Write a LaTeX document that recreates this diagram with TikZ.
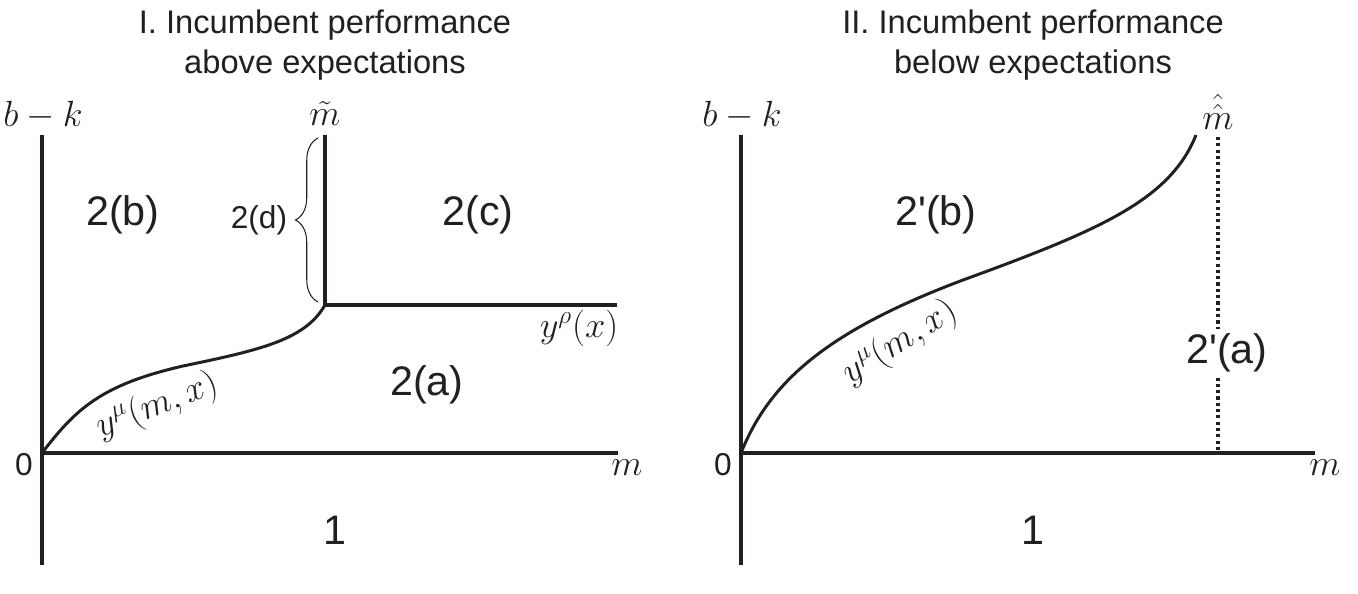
\documentclass[tikz,border=0pt]{standalone}
\usepackage{amsmath,amssymb}
\usepackage{fontspec}
\setmainfont{Liberation Sans}
\usetikzlibrary{positioning,decorations.pathreplacing}
\definecolor{ink}{HTML}{231F20}
\newcommand{\pq}{\textquotesingle}

\begin{document}
\begin{tikzpicture}[x=0.02cm,y=-0.02cm,
 ax/.style={draw=ink,line width=2.3pt},
 crv/.style={draw=ink,line width=1.7pt},
 dots/.style={draw=ink,line width=1.8pt,dash pattern=on 1.8pt off 1.8pt},
 ttl/.style={align=center,font=\fontsize{18.6}{22.7}\selectfont,text=ink},
 reg/.style={font=\fontsize{23.5}{27}\selectfont,text=ink,inner sep=1pt},
 sml/.style={font=\fontsize{18}{20}\selectfont,text=ink,inner sep=1pt},
 mth/.style={font=\fontsize{19.5}{22}\selectfont,text=ink,inner sep=0.5pt}]
\useasboundingbox (0,0) rectangle (1358,593);
% panel I
\node[ttl] (ttlA) at (325,45) {I. Incumbent performance\\ above expectations};
\coordinate (oA) at (42,453);
\coordinate (kA) at (325,305);
\draw[ax] (42,135) -- (42,565);
\draw[ax] (oA) -- (618,453);
\draw[ax] (325,135) -- (kA) -- (617,305);
\draw[crv] (oA) .. controls (75,410) and (100,385) .. (183,366)
 .. controls (260,350) and (305,340) .. (kA);
\draw[draw=ink,line width=0.6pt,decorate,decoration={brace,amplitude=0.45cm}] (318,302) -- (318,138);
\node[mth] (bkA) at (43,115) {$b-k$};
\node[mth] (mtA) at (325,114) {$\tilde{m}$};
\node[mth] (mA) at (627,468) {$m$};
\node[mth] (yrA) at (579,328) {$y^{\rho}(x)$};
\node[mth,rotate=21] (ymA) at (157,406) {$y^{\mu}(m,x)$};
\node[sml] (zA) at (24,465) {0};
\node[sml] (rdA) at (259,220) {2(d)};
\node[reg] (rbA) at (123,215) {2(b)};
\node[reg] (rcA) at (478,215) {2(c)};
\node[reg] (raA) at (427,385) {2(a)};
\node[reg] (r1A) at (335,530) {1};
% panel II
\node[ttl] (ttlB) at (1033,45) {II. Incumbent performance\\ below expectations};
\coordinate (oB) at (741,453);
\draw[ax] (741,135) -- (741,565);
\draw[ax] (oB) -- (1315,453);
\draw[dots] (1218,137) -- (1218,453);
\draw[crv] (oB) .. controls (770,380) and (830,330) .. (963,280)
 .. controls (1100,230) and (1170,200) .. (1196,135);
\node[mth] (bkB) at (742,115) {$b-k$};
\node[mth] (mhB) at (1218,112) {$\hat{\hat{m}}$};
\node[mth] (mB) at (1325,468) {$m$};
\node[mth,rotate=32] (ymB) at (900,343) {$y^{\mu}(m,x)$};
\node[sml] (zB) at (723,465) {0};
\node[reg] (rbB) at (936,215) {2\pq(b)};
\node[reg,fill=white,inner sep=3pt] (raB) at (1227,353) {2\pq(a)};
\node[reg] (r1B) at (1033,530) {1};
\end{tikzpicture}
\end{document}
